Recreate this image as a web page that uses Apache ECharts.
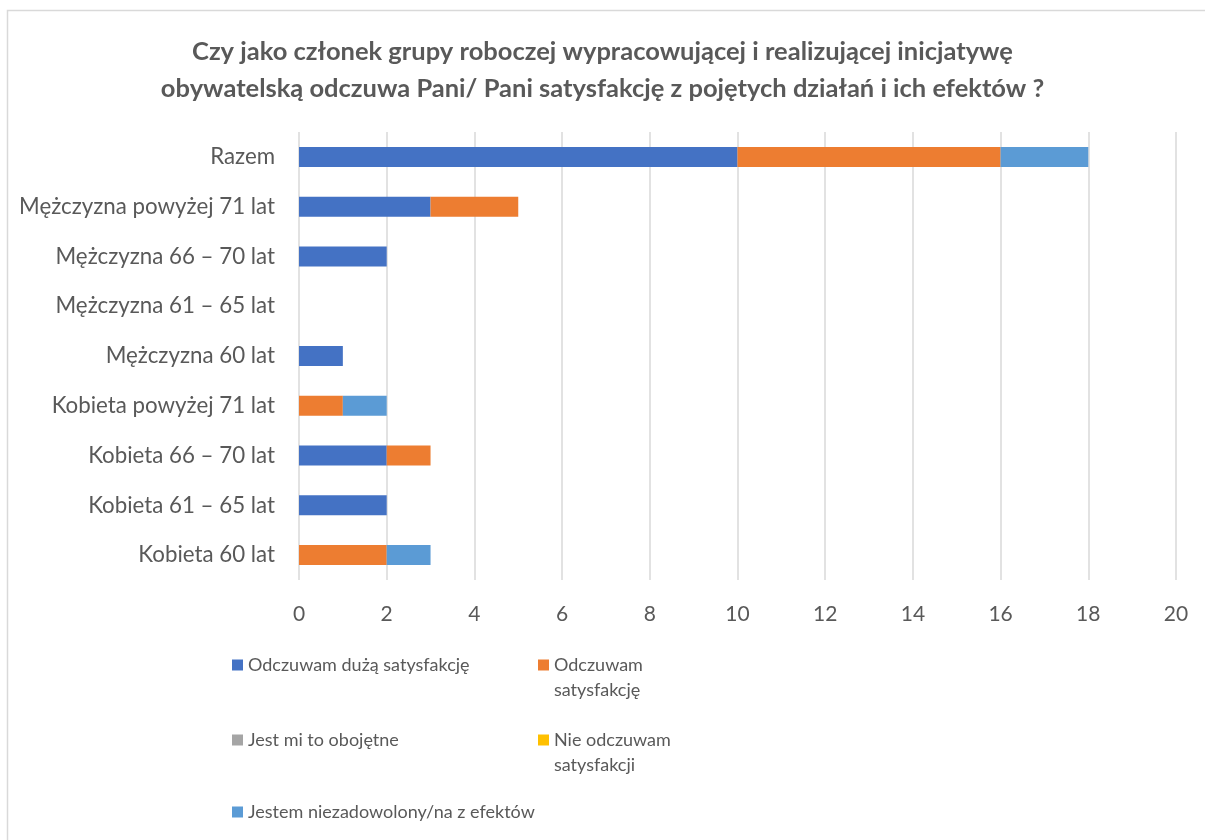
<!DOCTYPE html>
<html lang="pl">
<head>
    <meta charset="UTF-8">
    <title>Satysfakcja</title>
    <script src="https://cdn.jsdelivr.net/npm/echarts@6/dist/echarts.min.js"></script>
    <style>
        html, body { margin: 0; padding: 0; background: #fff; }
        #main { width: 1205px; height: 840px; }
    </style>
</head>
<body>
<div id="main"></div>
<script type="text/javascript">
    // kategorie od dołu do góry
    var categories = ['Kobieta 60 lat', 'Kobieta 61 – 65 lat', 'Kobieta 66 – 70 lat', 'Kobieta powyżej 71 lat',
        'Mężczyzna 60 lat', 'Mężczyzna 61 – 65 lat', 'Mężczyzna 66 – 70 lat', 'Mężczyzna powyżej 71 lat', 'Razem'];

    var seriesNames = ['Odczuwam dużą satysfakcję', 'Odczuwam satysfakcję', 'Jest mi to obojętne',
        'Nie odczuwam satysfakcji', 'Jestem niezadowolony/na z efektów'];
    // napisy w legendzie (pusta pierwsza linia, żeby kwadracik stał przy pierwszym wierszu)
    var legendText = ['Odczuwam dużą satysfakcję', ' \nOdczuwam\nsatysfakcję', 'Jest mi to obojętne',
        ' \nNie odczuwam\nsatysfakcji', 'Jestem niezadowolony/na z efektów'];

    var duza = [0, 2, 2, 0, 1, 0, 2, 3, 10];
    var satysfakcja = [2, 0, 1, 1, 0, 0, 0, 2, 6];
    var obojetne = [0, 0, 0, 0, 0, 0, 0, 0, 0];
    var nieOdczuwam = [0, 0, 0, 0, 0, 0, 0, 0, 0];
    var niezadowolony = [1, 0, 0, 1, 0, 0, 0, 0, 2];

    var values = [duza, satysfakcja, obojetne, nieOdczuwam, niezadowolony];
    var colors = ['#4472C4', '#ED7D31', '#A5A5A5', '#FFC000', '#5B9BD5'];

    var font = 'Lato';
    var grey = '#595959';

    // środek pierwszego wiersza każdej pozycji legendy (jak w Excelu: dwie kolumny)
    var legendPos = [[232, 665], [538, 665], [232, 740], [538, 740], [232, 812]];

    var myChart = echarts.init(document.getElementById('main'));

    var series = [];
    var legends = [];
    for (var i = 0; i < seriesNames.length; i++) {
        series.push({
            name: seriesNames[i],
            type: 'bar',
            stack: 'total',
            barWidth: 20,
            itemStyle: {color: colors[i]},
            data: values[i]
        });
        var lines = legendText[i].split('\n').length;
        legends.push({
            data: [seriesNames[i]],
            left: legendPos[i][0],
            top: legendPos[i][1] - lines * 25 / 2,
            padding: 0,
            itemWidth: 11,
            itemHeight: 11,
            icon: 'rect',
            selectedMode: false,
            formatter: (function (t) { return function () { return t; }; })(legendText[i]),
            textStyle: {
                fontFamily: font,
                fontSize: 18,
                color: grey,
                lineHeight: 25
            }
        });
    }

    var option = {
        animation: false,
        backgroundColor: '#fff',
        title: {
            text: 'Czy jako członek grupy roboczej wypracowującej i realizującej inicjatywę\nobywatelską odczuwa Pani/ Pani satysfakcję z pojętych działań i ich efektów ?',
            left: 'center',
            top: 28,
            textStyle: {
                fontFamily: font,
                fontSize: 25.5,
                fontWeight: 'bold',
                color: grey,
                lineHeight: 37
            }
        },
        graphic: [{
            type: 'rect',
            shape: {x: 7.5, y: 10.5, width: 1210, height: 850},
            style: {fill: 'none', stroke: '#d9d9d9', lineWidth: 1.5},
            silent: true
        }],
        legend: legends,
        grid: {left: 299, right: 29, top: 132, bottom: 260, containLabel: false},
        xAxis: {
            type: 'value',
            min: 0,
            max: 20,
            interval: 2,
            axisLine: {show: false},
            axisTick: {show: false},
            axisLabel: {fontFamily: font, fontSize: 21, color: grey, margin: 24},
            splitLine: {lineStyle: {color: '#d9d9d9', width: 1.5}}
        },
        yAxis: {
            type: 'category',
            data: categories,
            axisLine: {show: false},
            axisTick: {show: false},
            axisLabel: {fontFamily: font, fontSize: 22.3, color: grey, margin: 24}
        },
        series: series
    };

    myChart.setOption(option);
</script>
</body>
</html>
